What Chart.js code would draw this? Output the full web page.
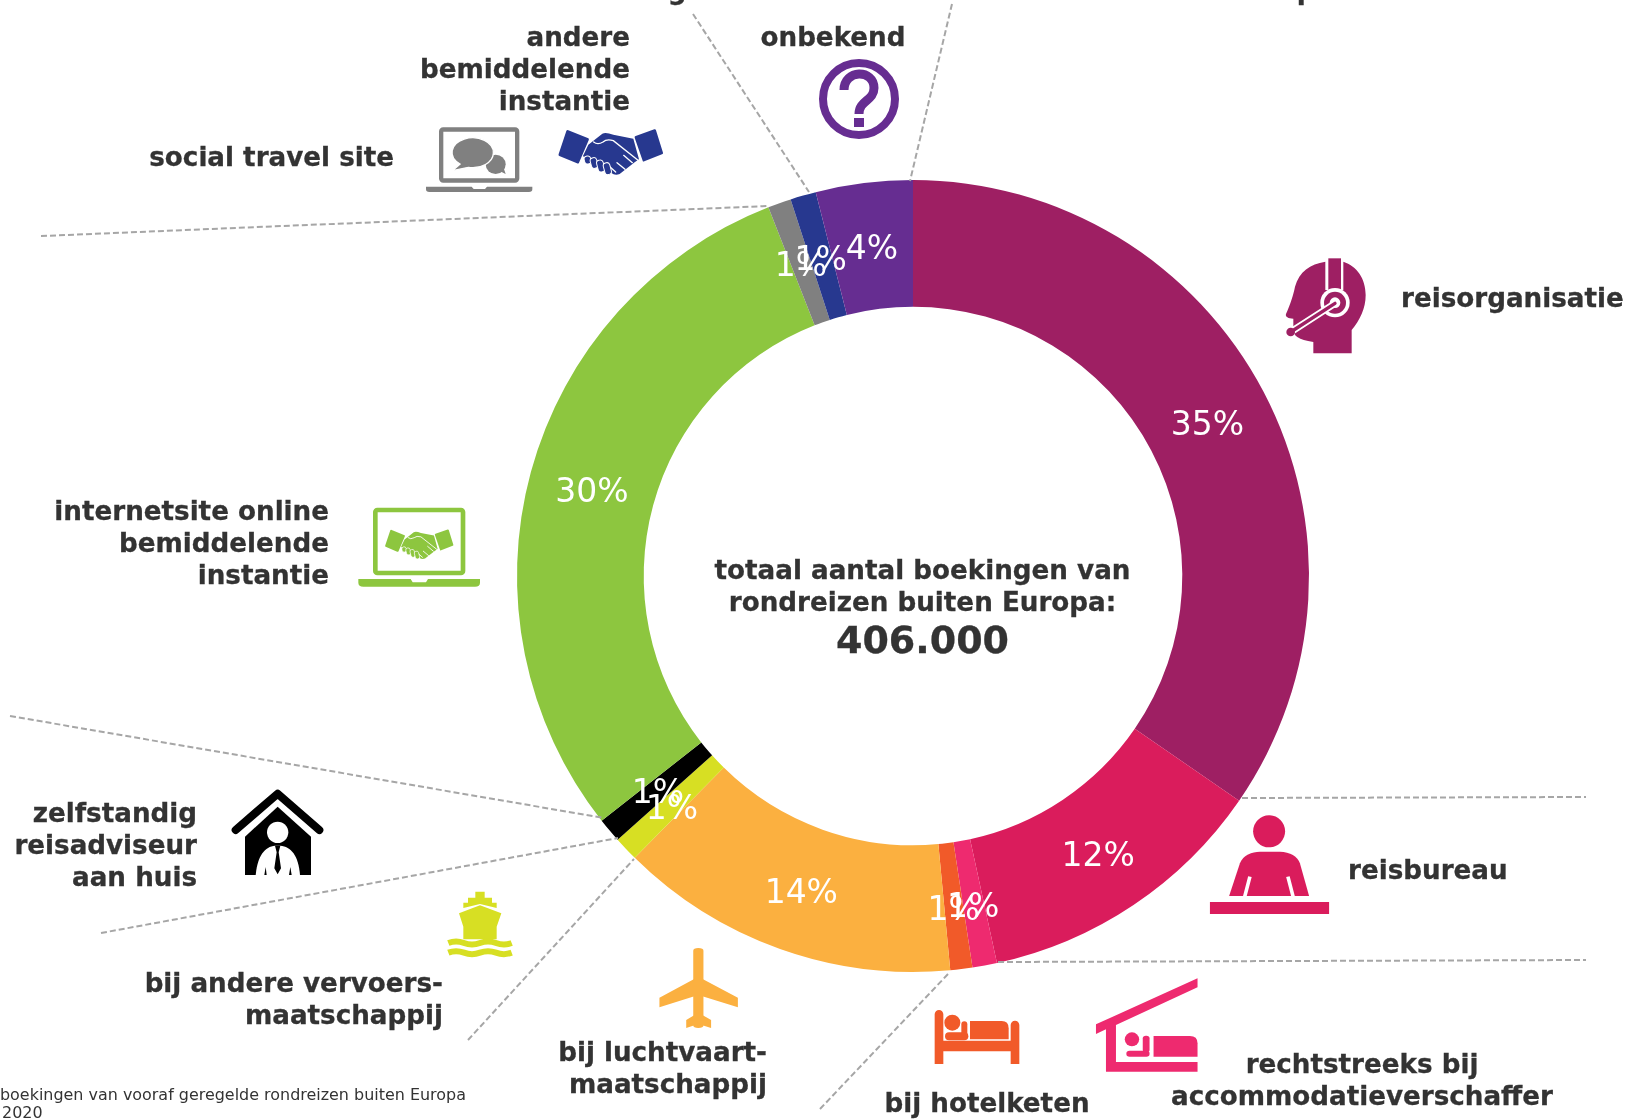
<!DOCTYPE html>
<html lang="nl"><head><meta charset="utf-8"><title>Boekingen van rondreizen buiten Europa</title>
<script src="https://cdn.jsdelivr.net/npm/chart.js@4/dist/chart.umd.min.js"></script>
<style>
html,body{margin:0;padding:0;background:#fff;overflow:hidden}
#stage{position:relative;width:1627px;height:1119px;overflow:hidden;font-family:"DejaVu Sans",sans-serif;color:#333}
#c{position:absolute;left:0;top:0}
#over{position:absolute;left:0;top:0;pointer-events:none}
.ic{position:absolute;overflow:visible}
.t{position:absolute;white-space:nowrap;font-weight:700;font-size:26.2px;line-height:32px;transform:translateY(-50%);-webkit-text-stroke:0.3px #333}
</style></head><body>
<div id="stage"><canvas id="c" width="1627" height="1119"></canvas>
<svg id="over" width="1627" height="1119" viewBox="0 0 1627 1119"><g id="leaders" fill="none" stroke="#a6a6a6" stroke-width="2" stroke-dasharray="6 3"></g></svg>

<svg width="0" height="0" style="position:absolute"><defs>
<symbol id="shake" viewBox="0 0 314 140" overflow="visible">
 <path fill="currentColor" d="M28 2L90 27Q93 29 91 33L62 100Q60 104 56 102L3 80Q-1 78 1 74L24 5Q25 2 28 2Z"/>
 <path fill="currentColor" d="M232 20L288 0Q292 -1 293 3L314 70Q315 74 311 75L258 96Q254 98 253 94L229 25Q228 21 232 20Z"/>
 <path fill="currentColor" d="M90 46L132 13Q142 8 165 16L225 28L242 90L230 98L184 134Q170 140 158 130L128 115L100 106L74 80Z"/>
 <g fill="none" stroke="#fff" stroke-width="4" stroke-linecap="round"><path d="M106 38Q118 48 134 38Q145 28 165 34L241 94"/><path d="M196 78L222 100M176 100L200 120M152 110L172 128"/></g>
 <g fill="currentColor" stroke="#fff" stroke-width="3"><rect x="78" y="80" width="20" height="24" rx="9" transform="rotate(-15 88 92)"/><rect x="97" y="85" width="20" height="32" rx="9" transform="rotate(-15 107 100)"/><rect x="117" y="92" width="20" height="36" rx="9" transform="rotate(-15 127 110)"/><rect x="137" y="100" width="20" height="36" rx="9" transform="rotate(-15 147 118)"/></g>
</symbol></defs></svg>

<!-- headset -->
<svg class="ic" style="left:1260px;top:240px" width="130" height="130" viewBox="0 0 390 390" fill="#9e1f63">
 <path d="M196 65C150 72 118 95 105 140C100 165 92 190 78 222C75 230 85 236 100 236L100 268C100 288 115 300 160 306L160 340L275 340L275 270C300 240 317 205 317 165C317 115 290 78 250 65L250 150L196 150Z"/>
 <rect x="205" y="55" width="38" height="100"/>
 <circle cx="225" cy="188" r="44" fill="#fff"/><circle cx="225" cy="188" r="33"/><circle cx="225" cy="188" r="16" fill="#fff"/>
 <path d="M225 190L92 276" stroke="#fff" stroke-width="21" stroke-linecap="round"/><path d="M225 190L92 276" stroke="#9e1f63" stroke-width="10" stroke-linecap="round"/><circle cx="92" cy="276" r="13"/>
</svg>
<!-- reisbureau + accommodatie -->
<svg class="ic" style="left:1000px;top:780px" width="627" height="339" viewBox="0 0 1568 1017" preserveAspectRatio="none">
 <g fill="#da1c5c"><ellipse cx="673" cy="154" rx="40" ry="48"/><path d="M573 348L600 250C608 225 630 215 650 215L700 215C725 215 745 230 750 250L773 348Z"/><rect x="525" y="366" width="298" height="36"/></g>
 <path d="M625 290L612 350M720 290L733 350" stroke="#fff" stroke-width="9" fill="none"/>
 <g fill="#ee2a6f"><path d="M240 733L494 595L494 622L290 735L290 846L494 846L494 875L265 875L265 748L240 762Z"/><ellipse cx="330" cy="778" rx="18" ry="21"/><rect x="316" y="812" width="58" height="18" rx="8"/><rect x="357" y="767" width="17" height="50" rx="8"/><path d="M384 768L475 768Q494 768 494 790L494 830L384 830Z"/></g>
</svg>
<!-- hotel bed -->
<svg class="ic" style="left:920px;top:990px" width="120" height="90" viewBox="0 0 360 270" fill="#f15a29">
 <path d="M44 73A13 13 0 0 1 70 73L70 152L272 152L272 105A13 13 0 0 1 298 105L298 222L272 222L272 184L70 184L70 222L44 222Z"/>
 <circle cx="97" cy="98" r="24"/><rect x="75" y="127" width="70" height="24" rx="12"/><rect x="124" y="94" width="18" height="50" rx="9"/><path d="M150 93L245 93Q266 93 266 115L266 148L150 148Z"/>
</svg>
<!-- ship -->
<svg class="ic" style="left:430px;top:880px" width="100" height="80" viewBox="0 0 300 240" fill="#d7df23">
 <path d="M136 35H164V53H186V68H200V84L150 72L100 84V68H114V53H136Z"/>
 <path d="M150 76L214 100L200 140V178H100V140L87 100Z"/>
 <path d="M55 189Q78 180 102 189T150 189T198 189T245 189M55 218Q78 209 102 218T150 218T198 218T245 218" fill="none" stroke="#d7df23" stroke-width="18"/>
</svg>
<!-- plane -->
<svg class="ic" style="left:0;top:900px" width="1000" height="219" viewBox="0 0 1568 657" preserveAspectRatio="none" fill="#fbb040">
 <rect x="1087" y="144" width="16" height="240" rx="8"/><path d="M1095 230L1157 293V322L1095 285L1034 322V293Z"/><path d="M1095 338L1115 360V384L1095 372L1076 384V360Z"/>
</svg>
<!-- green laptop -->
<svg class="ic" style="left:340px;top:490px" width="160" height="110" viewBox="0 0 480 330">
 <rect x="106" y="60" width="263" height="189" rx="6" fill="none" stroke="#8dc63f" stroke-width="14"/>
 <path fill="#8dc63f" d="M55 267H212L218 277H258L264 267H420V278Q420 290 405 290H70Q55 290 55 278Z"/>
 <use href="#shake" x="135" y="118" width="205" height="92" style="color:#8dc63f"/>
</svg>
<!-- grey laptop + blue hands -->
<svg class="ic" style="left:425px;top:110px" width="250" height="90" viewBox="0 0 750 270">
 <rect x="48.5" y="58.5" width="228" height="153" rx="6" fill="none" stroke="#808080" stroke-width="13"/>
 <path fill="#808080" d="M3 230H140L146 237H180L186 230H322V238Q322 246 312 246H13Q3 246 3 238Z"/>
 <ellipse cx="212" cy="163" rx="30" ry="29" fill="#808080"/><path d="M222 182L242 192L234 168Z" fill="#808080"/>
 <path d="M205 130A62 44 0 1 0 105 162L82 182L130 172A62 44 0 0 0 205 130Z" fill="#808080" stroke="#fff" stroke-width="4"/>
 <use href="#shake" x="400" y="58" width="314" height="140" style="color:#27388f"/>
</svg>
<!-- house -->
<svg class="ic" style="left:215px;top:775px" width="130" height="110" viewBox="0 0 390 330">
 <path d="M62 165L188 56L313 165" fill="none" stroke="#000" stroke-width="24" stroke-linecap="round" stroke-linejoin="round"/>
 <path d="M90 185L188 95L288 185V300H90Z"/>
 <circle cx="188" cy="172" r="32" fill="#fff"/><path fill="#fff" d="M122 300C128 240 150 215 180 212H196C228 215 250 240 255 300Z"/>
 <path d="M180 212H196L191 232L198 280L188 298L178 280L185 232Z"/><path d="M148 300L152 276L155 300ZM222 300L226 276L230 300Z"/>
</svg>
<!-- question -->
<svg class="ic" style="left:859px;top:99px" width="1" height="1">
 <circle r="36" fill="none" stroke="#662d91" stroke-width="8"/>
 <path d="M-15 -9C-15 -30 15 -30 15 -11C15 2 0 1 0 15" fill="none" stroke="#662d91" stroke-width="9"/><rect x="-5" y="19" width="10" height="9" fill="#662d91"/>
</svg>
<div id="labels"></div>
</div>
<script>
// Data
const categories = ["reisorganisatie","reisbureau","rechtstreeks bij accommodatieverschaffer","bij hotelketen","bij luchtvaartmaatschappij","bij andere vervoersmaatschappij","zelfstandig reisadviseur aan huis","internetsite online bemiddelende instantie","social travel site","andere bemiddelende instantie","onbekend"];
const shares = [34.6,12.0,1.0,0.9,13.9,1.0,1.0,29.65,0.95,1.05,3.95];
const sliceColors = ["#9e1f63","#da1c5c","#ee2a6f","#f15a29","#fbb040","#d7df23","#000000","#8dc63f","#808080","#27388f","#662d91"];

// Annotations: [lines, anchor, x, y of first line centre]
const annotations = [
 [["andere","bemiddelende","instantie"],"r",630,37],
 [["onbekend"],"c",833,37],
 [["social travel site"],"r",394,157],
 [["reisorganisatie"],"l",1401,298],
 [["internetsite online","bemiddelende","instantie"],"r",329,511],
 [["zelfstandig","reisadviseur","aan huis"],"r",197,813],
 [["bij andere vervoers-","maatschappij"],"r",443,983],
 [["bij luchtvaart-","maatschappij"],"r",767,1052],
 [["bij hotelketen"],"c",987,1103],
 [["rechtstreeks bij","accommodatieverschaffer"],"c",1362,1064],
 [["reisbureau"],"l",1348,870],
 [["totaal aantal boekingen van","rondreizen buiten Europa:"],"c",922.5,570]
];
const clippedTop = [["g",677,-10],["p",1306,-10]];
const totalLabel = "406.000";
const footnote = ["boekingen van vooraf geregelde rondreizen buiten Europa"," 2020"];
const leaderLines = [[952,4,910,181],[693,14,809,192],[41,236,768,206],[10,716,604,818],[101,933,618,838],[468,1040,634,859],[820,1109,949,973],[998,962,1586,960],[1242,798,1586,797]];

const holder = document.getElementById('labels');
function addText(txt,a,x,y,extra){
 const d=document.createElement('div');d.className='t';d.textContent=txt;d.style.top=y+'px';
 if(a==='l')d.style.left=x+'px';
 if(a==='r')d.style.right=(1627-x)+'px';
 if(a==='c'){d.style.left=x+'px';d.style.transform='translate(-50%,-50%)';}
 Object.assign(d.style,extra||{});holder.appendChild(d);
}
annotations.forEach(([ls,a,x,y])=>ls.forEach((s,i)=>addText(s,a,x,y+i*32.2)));
clippedTop.forEach(([s,x,y])=>addText(s,'c',x,y));
addText(totalLabel,'c',922.5,640,{fontSize:'38px',lineHeight:'44px'});
const small={fontWeight:'400',fontSize:'15.95px',lineHeight:'20px',webkitTextStroke:'0'};
addText(footnote[0],'l',0,1095,small);
addText(footnote[1],'l',-3,1113,Object.assign({whiteSpace:'pre'},small));

const lg=document.getElementById('leaders');
leaderLines.forEach(([a,b,c,d])=>{const l=document.createElementNS('http://www.w3.org/2000/svg','line');
 l.setAttribute('x1',a);l.setAttribute('y1',b);l.setAttribute('x2',c);l.setAttribute('y2',d);lg.appendChild(l);});

const pctLabels={id:'pctLabels',afterDatasetsDraw(ch){
 const g=ch.ctx,m=ch.getDatasetMeta(0);g.save();
 g.font='33px "DejaVu Sans"';g.fillStyle='#fff';g.textAlign='center';g.textBaseline='middle';
 m.data.forEach((arc,i)=>{const p=arc.getCenterPoint();g.fillText(Math.round(shares[i])+'%',p.x,p.y+5);});
 g.restore();}};

new Chart(document.getElementById('c'),{type:'doughnut',
 data:{labels:categories,datasets:[{data:shares,backgroundColor:sliceColors,borderWidth:0}]},
 options:{responsive:false,animation:false,cutout:'68%',
  layout:{padding:{left:517,top:180,right:318,bottom:147}},
  plugins:{legend:{display:false},tooltip:{enabled:false}}},
 plugins:[pctLabels]});
</script>
</body></html>
